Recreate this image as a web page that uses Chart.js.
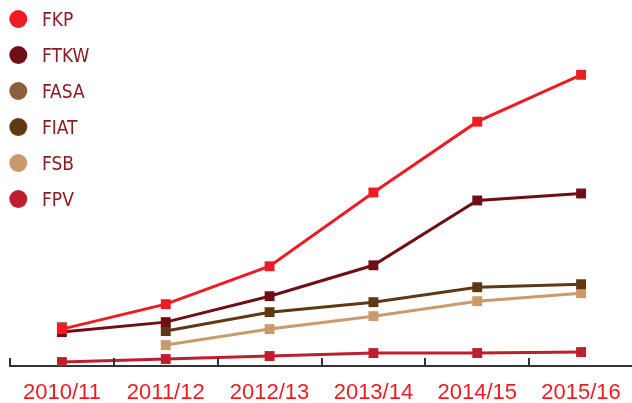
<!DOCTYPE html>
<html>
<head>
<meta charset="utf-8">
<script src="https://cdn.jsdelivr.net/npm/chart.js@4.4.1/dist/chart.umd.min.js"></script>
<style>
    html, body { margin: 0; padding: 0; background: #fff; overflow: hidden; }
    .wrap { position: relative; width: 640px; height: 403px; }
</style>
</head>
<body>
<div class="wrap"><canvas id="chart"></canvas></div>
<script>
// values (no y axis shown, arbitrary units)
const years = ['2010/11', '2011/12', '2012/13', '2013/14', '2014/15', '2015/16'];
const fkp  = [37, 62, 100, 174, 245, 292];
const ftkw = [34, 44, 70, 101, 166, 173];
const fasa = [39, null, null, null, null, null];
const fiat = [null, 35, 54, 64, 79, 82];
const fsb  = [null, 21, 37, 50, 65, 73];
const fpv  = [4, 7, 10, 13, 13, 14];

const seriesNames = ['FKP', 'FTKW', 'FASA', 'FIAT', 'FSB', 'FPV'];
const seriesColors = ['#ed1c24', '#6e0f15', '#8b5e3c', '#5e3912', '#c89a6c', '#be1e2d'];
const seriesValues = [fkp, ftkw, fasa, fiat, fsb, fpv];

const textFont = "'Liberation Sans Narrow', 'DejaVu Sans Condensed', 'Arial Narrow', sans-serif";

// legend drawn in the top left corner, over the plot
const cornerLegend = {
    id: 'cornerLegend',
    afterDraw(chart) {
        const ctx = chart.ctx;
        ctx.save();
        ctx.textBaseline = 'middle';
        ctx.textAlign = 'left';
        ctx.font = '19px ' + textFont;
        chart.data.datasets.forEach((ds, i) => {
            const y = 19 + i * 36;
            ctx.fillStyle = ds.borderColor;
            ctx.beginPath();
            ctx.arc(18.3, y, 9, 0, Math.PI * 2);
            ctx.fill();
            ctx.fillStyle = '#8a1c22';
            ctx.fillText(ds.label, 42, y + 2);
        });
        ctx.restore();
    }
};

// small tick marks that stand up from the axis between categories
const upTicks = {
    id: 'upTicks',
    afterDraw(chart) {
        const xs = chart.scales.x;
        const ctx = chart.ctx;
        const half = (xs.getPixelForValue(1) - xs.getPixelForValue(0)) / 2;
        const bottom = chart.chartArea.bottom;
        ctx.save();
        ctx.strokeStyle = '#333';
        ctx.lineWidth = 2;
        for (let i = 0; i <= years.length; i++) {
            const x = Math.round(xs.getPixelForValue(i) - half);
            ctx.beginPath();
            ctx.moveTo(x, bottom - 8);
            ctx.lineTo(x, bottom);
            ctx.stroke();
        }
        ctx.restore();
    }
};

const datasets = seriesNames.map((name, i) => ({
    label: name,
    data: seriesValues[i],
    borderColor: seriesColors[i],
    backgroundColor: seriesColors[i],
    borderWidth: 3,
    pointStyle: 'rect',
    pointRadius: 7,
    pointBorderWidth: 0,
    tension: 0
}));

new Chart(document.getElementById('chart'), {
    type: 'line',
    data: { labels: years, datasets: datasets },
    options: {
        responsive: true,
        maintainAspectRatio: false,
        animation: false,
        layout: { padding: { top: 6, left: 10, right: 6, bottom: 0 } },
        plugins: {
            legend: { display: false },
            tooltip: { enabled: false }
        },
        scales: {
            x: {
                offset: true,
                afterFit: (scale) => { scale.height = 37; },
                grid: { display: false, drawTicks: false },
                border: { display: true, color: '#333', width: 2 },
                ticks: {
                    color: '#ed1c24',
                    padding: 14,
                    font: { family: "'Liberation Sans', Arial, sans-serif", size: 22 }
                }
            },
            y: {
                display: false,
                min: 0,
                max: 360
            }
        }
    },
    plugins: [cornerLegend, upTicks]
});
</script>
</body>
</html>
